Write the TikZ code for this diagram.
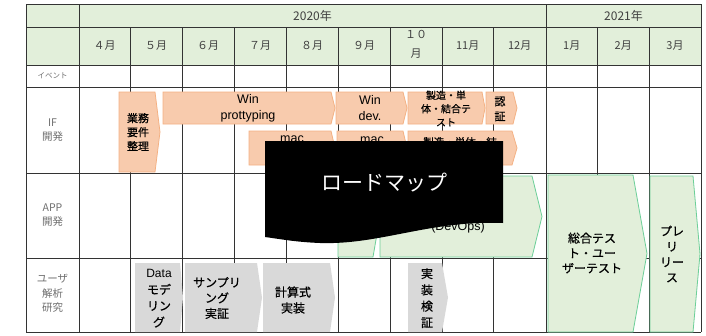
\documentclass[tikz,border=0pt]{standalone}
\usepackage{fontspec}
\setmainfont{Noto Sans CJK JP}
\newfontfamily\jpm{Noto Sans CJK JP}[FakeBold=0.6]
\newfontfamily\lat{Liberation Sans}
\definecolor{hdr}{HTML}{E2EFDA}
\definecolor{gridc}{HTML}{333333}
\definecolor{orfill}{HTML}{F8CBAD}
\definecolor{ordraw}{HTML}{F4B183}
\definecolor{grfill}{HTML}{E2EFDA}
\definecolor{grdraw}{HTML}{6CCF98}
\definecolor{gyfill}{HTML}{D9D9D9}
\definecolor{lblc}{HTML}{6E6E6E}
\definecolor{hdrtxt}{HTML}{404040}
\newcommand{\fs}[2]{\fontsize{#1}{#2}\selectfont}
\newcommand{\chevr}[6]{\path[#6] (#1,#2) -- (#5,#2) -- (#3,{(#2+#4)/2}) -- (#5,#4) -- (#1,#4) -- cycle;}
\tikzset{
  gridln/.style={draw=gridc, line width=1pt},
  ifbox/.style={fill=orfill, draw=ordraw, line width=0.8pt},
  appbox/.style={fill=grfill, draw=grdraw, line width=0.8pt},
  resbox/.style={fill=gyfill},
  lbl/.style={text=lblc, align=center, inner sep=0pt},
  hd/.style={text=hdrtxt, align=center, inner sep=0pt},
  txt/.style={text=black, align=center, inner sep=0pt},
}
\begin{document}
\begin{tikzpicture}[x=1pt,y=-1pt]
\useasboundingbox (0,0) rectangle (706,335);
\fill[white] (0,0) rectangle (706,335);
% header background
\fill[hdr] (26,4) rectangle (701,65);
% horizontal grid lines
\foreach \yy in {4,27,65,87,173,258,332}
  \draw[gridln] (26,\yy) -- (701,\yy);
% vertical grid lines
\foreach \xx in {26,79,546,701}
  \draw[gridln] (\xx,4) -- (\xx,332);
\foreach \xx in {130.5,182,234,286,338,390,442,493.5,597.5,649}
  \draw[gridln] (\xx,27) -- (\xx,332);
% header texts
\node[hd, font=\fs{12}{14}] (y2020) at (312.5,15.5) {2020年};
\node[hd, font=\fs{12}{14}] (y2021) at (623.5,15.5) {2021年};
\node[hd, font=\fs{11}{14}] (m4) at (104.7,46) {４月};
\node[hd, font=\fs{11}{14}] (m5) at (156.2,46) {５月};
\node[hd, font=\fs{11}{14}] (m6) at (208,46) {６月};
\node[hd, font=\fs{11}{14}] (m7) at (260,46) {７月};
\node[hd, font=\fs{11}{14}] (m8) at (312,46) {８月};
\node[hd, font=\fs{11}{14}] (m9) at (364,46) {９月};
\node[hd, font=\fs{11}{19}] (m10) at (416,44) {１０\\月};
\node[hd, font=\fs{11}{14}] (m11) at (467.7,46) {11月};
\node[hd, font=\fs{11}{14}] (m12) at (519.7,46) {12月};
\node[hd, font=\fs{11}{14}] (m1) at (571.7,46) {1月};
\node[hd, font=\fs{11}{14}] (m2) at (623.2,46) {2月};
\node[hd, font=\fs{11}{14}] (m3) at (675,46) {3月};
% row labels
\node[lbl, font=\fs{7.5}{9}] (lev) at (52.5,76) {イベント};
\node[lbl, font=\fs{10.5}{14}] (lif) at (52.5,130) {IF\\開発};
\node[lbl, font=\fs{10.5}{14}] (lapp) at (52.5,215.5) {APP\\開発};
\node[lbl, font=\fs{10.5}{14.5}] (lres) at (52.5,293.5) {ユーザ\\解析\\研究};
% IF row shapes
\chevr{119}{92}{160}{172}{155}{ifbox}
\node[txt, font=\jpm\fs{11}{14}] (t1) at (138,132) {業務\\要件\\整理};
\chevr{163}{92}{335}{124}{331}{ifbox}
\node[txt, font=\lat\fs{12.5}{16}] (t2) at (248,108) {Win\\prottyping};
\chevr{336}{92}{407}{124}{403}{ifbox}
\node[txt, font=\lat\fs{12.5}{16}] (t3) at (370,108) {Win\\dev.};
\chevr{408}{92}{485}{124}{482}{ifbox}
\node[txt, font=\jpm\fs{10}{13.5}] (t4) at (446,108.5) {製造・単\\体・結合テ\\スト};
\chevr{486}{92}{517}{124}{513}{ifbox}
\node[txt, font=\jpm\fs{11}{15}] (t5) at (500,109) {認\\証};
\chevr{249}{131}{335}{165}{331}{ifbox}
\node[txt, font=\lat\fs{12.5}{16}] (t6) at (292,148) {mac\\prottyping};
\chevr{337}{131}{407}{165}{403}{ifbox}
\node[txt, font=\lat\fs{12.5}{16}] (t7) at (372,148) {mac\\dev.};
\chevr{408}{131}{517}{165}{512}{ifbox}
\node[txt, font=\jpm\fs{10.5}{14}] (t8) at (460,149) {製造・単体・結\\合テスト};
% APP row shapes
\chevr{338}{176}{380}{257}{373}{appbox}
\chevr{380}{176}{542}{257}{532}{appbox}
\node[txt, font=\lat\fs{12.5}{16}] (t9) at (458,227) {(DevOps)};
\chevr{548}{175}{647}{332}{633}{appbox}
\node[txt, font=\jpm\fs{12}{15}] (t10) at (592,253) {総合テス\\ト・ユー\\ザーテスト};
\chevr{650}{176}{700}{332}{693}{appbox}
\node[txt, font=\jpm\fs{12}{15.5}] (t11) at (672,254) {プレ\\リ\\リー\\ス};
% research row shapes
\chevr{135}{263}{183}{332}{180}{resbox}
\node[txt, font=\jpm\fs{12}{16.3}] (t12) at (159,298.5) {{\lat Data}\\モデ\\リン\\グ};
\chevr{185}{263}{262}{332}{257}{resbox}
\node[txt, font=\jpm\fs{12}{15.5}] (t13) at (217,298) {サンプリ\\ング\\実証};
\chevr{263}{263}{335}{332}{330}{resbox}
\node[txt, font=\jpm\fs{12}{16}] (t14) at (293,300) {計算式\\実装};
\chevr{408}{263}{448}{332}{442}{resbox}
\node[txt, font=\jpm\fs{12}{16.3}] (t15) at (427,298) {実\\装\\検\\証};
% black title box
\fill[black] (265,141) -- (503,141) -- (503,223) .. controls (430,220) and (380,245) .. (320,243) .. controls (295,242) and (280,239) .. (265,237) -- cycle;
\node[text=white, inner sep=0pt, font=\fs{21}{24}] (title) at (384,183) {ロードマップ};
\end{tikzpicture}
\end{document}
